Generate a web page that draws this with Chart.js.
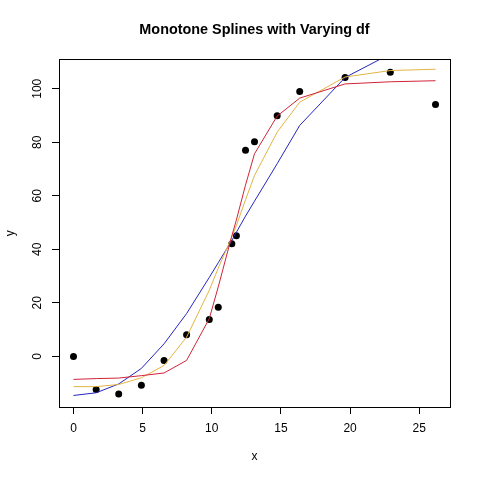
<!DOCTYPE html>
<html>
<head>
<meta charset="utf-8">
<script src="https://cdn.jsdelivr.net/npm/chart.js@4.4.0/dist/chart.umd.min.js"></script>
<style>
    html, body { margin: 0; padding: 0; background: #fff; }
</style>
</head>
<body>
<canvas id="splines" width="480" height="480"></canvas>
<script>
// observed points
const xData = [0, 1.64, 3.27, 4.91, 6.55, 8.18, 9.82, 10.47, 11.45, 11.78, 12.44, 13.09, 14.73, 16.36, 19.64, 22.91, 26.18];
const yData = [0, -12.4, -14.1, -10.8, -1.5, 8.1, 13.8, 18.4, 42.1, 45.1, 77.0, 80.2, 89.9, 99.0, 104.2, 106.2, 94.1];

// fitted monotone splines, evaluated at xData
const fitRed = [-8.6, -8.3, -8.1, -7.2, -6.2, -1.5, 14.1, 26, 45, 51, 64, 75.7, 89.8, 96.5, 101.8, 102.6, 103.0];
const fitOrange = [-11.3, -11.3, -10.5, -8.0, -3.4, 7.2, 24.7, 33, 44.6, 48.9, 58.5, 67.6, 83.8, 95.0, 104.4, 106.8, 107.3];
const fitBlue = [-14.6, -13.6, -10.3, -4.5, 4.7, 16.0, 29.5, 35, 43.3, 46.4, 52.4, 58, 72, 86.3, 104.2, 113, 120];

const xTicks = [0, 5, 10, 15, 20, 25];
const yTicks = [0, 20, 40, 60, 80, 100];

function pairs(ys) {
    var out = [];
    for (var i in xData) {
        out.push({ x: xData[i], y: ys[i] });
    }
    return out;
}

// R style axis limits: data range plus 4% each side
function rLimits(v) {
    var lo = Math.min.apply(null, v);
    var hi = Math.max.apply(null, v);
    var d = (hi - lo) * 0.04;
    return [lo - d, hi + d];
}
const xLim = rLimits(xData);
const yLim = rLimits(yData);

const fontFamily = "'Liberation Sans', Arial, Helvetica, sans-serif";

const boxPlugin = {
    id: "box",
    afterDraw: function (chart) {
        var a = chart.chartArea;
        var ctx = chart.ctx;
        ctx.save();
        ctx.strokeStyle = "#000";
        ctx.lineWidth = 1;
        ctx.strokeRect(Math.round(a.left) + 0.5, Math.round(a.top) + 0.5,
            Math.round(a.right - a.left), Math.round(a.bottom - a.top));
        ctx.restore();
    },
};

function lineSet(ys, color, order) {
    return {
        label: "",
        data: pairs(ys),
        showLine: true,
        borderColor: color,
        borderWidth: 1,
        pointRadius: 0,
        tension: 0,
        fill: false,
        order: order,
    };
}

var ctx = document.getElementById("splines").getContext("2d");
var chart = new Chart(ctx, {
    type: "scatter",
    data: {
        datasets: [
            {
                label: "",
                data: pairs(yData),
                backgroundColor: "#000",
                borderColor: "#000",
                pointRadius: 3.5,
                pointBorderWidth: 0,
                order: 4,
            },
            lineSet(fitBlue, "#2626c0", 3),
            lineSet(fitOrange, "#e2b444", 2),
            lineSet(fitRed, "#cf2438", 1),
        ],
    },
    options: {
        responsive: false,
        animation: false,
        devicePixelRatio: 1,
        layout: { padding: { left: 0, right: 30, top: 0, bottom: 0 } },
        plugins: {
            legend: { display: false },
            tooltip: { enabled: false },
            title: {
                display: true,
                text: "Monotone Splines with Varying df",
                fullSize: false,
                color: "#000",
                font: { family: fontFamily, size: 14.4, weight: "bold" },
                padding: { top: 21.5, bottom: 20.5 },
            },
        },
        scales: {
            x: {
                type: "linear",
                min: xLim[0],
                max: xLim[1],
                afterBuildTicks: function (s) {
                    s.ticks = xTicks.map(function (v) { return { value: v }; });
                },
                afterFit: function (s) { s.height = 73; },
                border: { display: false },
                grid: { drawOnChartArea: false, drawTicks: true, tickLength: 7, color: "#000", lineWidth: 1 },
                ticks: {
                    color: "#000",
                    padding: 7,
                    maxRotation: 0,
                    font: { family: fontFamily, size: 12 },
                },
                title: {
                    display: true,
                    text: "x",
                    color: "#000",
                    font: { family: fontFamily, size: 12 },
                    padding: { top: 0, bottom: 16 },
                },
            },
            y: {
                type: "linear",
                min: yLim[0],
                max: yLim[1],
                afterBuildTicks: function (s) {
                    s.ticks = yTicks.map(function (v) { return { value: v }; });
                },
                afterFit: function (s) { s.width = 59; },
                border: { display: false },
                grid: { drawOnChartArea: false, drawTicks: true, tickLength: 7, color: "#000", lineWidth: 1 },
                ticks: {
                    color: "#000",
                    padding: 4,
                    minRotation: 90,
                    maxRotation: 90,
                    crossAlign: "center",
                    font: { family: fontFamily, size: 12 },
                },
                title: {
                    display: true,
                    text: "y",
                    color: "#000",
                    font: { family: fontFamily, size: 12 },
                    padding: { top: 3, bottom: 0 },
                },
            },
        },
    },
    plugins: [boxPlugin],
});
</script>
</body>
</html>
